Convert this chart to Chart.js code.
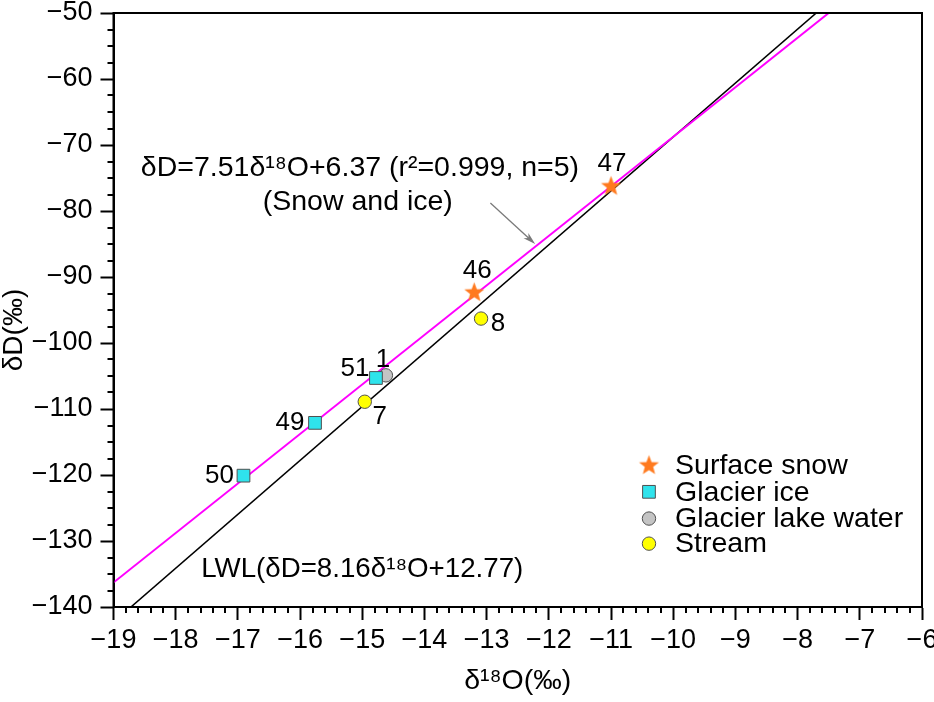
<!DOCTYPE html>
<html><head><meta charset="utf-8">
<script src="https://cdn.jsdelivr.net/npm/chart.js@4.4.1/dist/chart.umd.min.js"></script>
<style>html,body{margin:0;padding:0;background:#fff}</style>
</head><body>
<canvas id="c" width="934" height="702"></canvas>
<script>
// ---- data ----
const xTicks = [-19,-18,-17,-16,-15,-14,-13,-12,-11,-10,-9,-8,-7,-6];
const yTicks = [-140,-130,-120,-110,-100,-90,-80,-70,-60,-50];

const snowX = [-11.0, -13.2];
const snowY = [-76.2, -92.3];
const snowLabels = ['47', '46'];

const iceX = [-14.78, -15.76, -16.91];
const iceY = [-105.3, -112.1, -120.1];
const iceLabels = ['51', '49', '50'];

const lakeX = [-14.62];
const lakeY = [-104.9];
const lakeLabels = ['1'];

const streamX = [-13.09, -14.96];
const streamY = [-96.3, -108.9];
const streamLabels = ['8', '7'];

const snowIceLineX = [-19, -7.5];
const snowIceLineY = [-136.3, -50];
const lwlX = [-18.72, -7.70];
const lwlY = [-140, -50];

const seriesNames = ['Surface snow', 'Glacier ice', 'Glacier lake water', 'Stream'];
const xTitle = 'δ¹⁸O(‰)';
const yTitle = 'δD(‰)';
const eqSnowIce = 'δD=7.51δ¹⁸O+6.37 (r²=0.999, n=5)';
const eqSnowIceSub = '(Snow and ice)';
const eqLWL = 'LWL(δD=8.16δ¹⁸O+12.77)';

// ---- styling / placement (not data) ----
const FONT = '"Liberation Sans", Arial, Helvetica, sans-serif';
Chart.defaults.font.family = FONT;
const labelOffsets = {
  '47': [1, -22], '46': [3, -21], '8': [17, 5],
  '51': [-21, -9], '49': [-25, 0], '50': [-24, 0],
  '1': [-3, -16], '7': [15, 15]
};
const annotPos = {
  eq1: [-18.56, -73.5], eq2: [-16.6, -78.6], lwl: [-17.59, -134.3],
  arrowFrom: [-12.94, -78.8], arrowTo: [-12.22, -85.0],
  legendMarkerX: -10.39, legendTextX: -9.97, legendRows: [-118.5, -122.55, -126.6, -130.4]
};

function pts(xs, ys) { return xs.map((x, i) => ({x: x, y: ys[i]})); }
function fmt(v) { return String(v).replace('-', '\u2212'); }

// star image for point style
function makeStar(R, r, color) {
  const c = document.createElement('canvas');
  c.width = c.height = Math.ceil(2 * R + 2);
  const g = c.getContext('2d');
  const cx = c.width / 2, cy = c.height / 2 + 0.5;
  g.beginPath();
  for (let i = 0; i < 10; i++) {
    const rad = i % 2 === 0 ? R : r;
    const a = -Math.PI / 2 + i * Math.PI / 5;
    const px = cx + rad * Math.cos(a), py = cy + rad * Math.sin(a);
    if (i === 0) g.moveTo(px, py); else g.lineTo(px, py);
  }
  g.closePath();
  g.fillStyle = color;
  g.fill();
  return c;
}
const starImg = makeStar(10.5, 4.4, '#FF7A1F');

const styles = [
  {pointStyle: starImg, radius: 10, bg: '#FF7A1F', border: '#FF7A1F'},
  {pointStyle: 'rect', radius: 9, bg: '#2FE3EC', border: '#505050'},
  {pointStyle: 'circle', radius: 6.7, bg: '#C4C4C4', border: '#505050'},
  {pointStyle: 'circle', radius: 6.7, bg: '#FFFF00', border: '#505050'}
];

const pointSets = [
  {name: seriesNames[0], data: pts(snowX, snowY), labels: snowLabels},
  {name: seriesNames[1], data: pts(iceX, iceY), labels: iceLabels},
  {name: seriesNames[2], data: pts(lakeX, lakeY), labels: lakeLabels},
  {name: seriesNames[3], data: pts(streamX, streamY), labels: streamLabels}
];

const datasets = pointSets.map((s, i) => ({
  label: s.name, data: s.data, pointLabels: s.labels,
  pointStyle: styles[i].pointStyle, pointRadius: styles[i].radius,
  backgroundColor: styles[i].bg, borderColor: styles[i].border,
  borderWidth: 1, showLine: false, order: 0
}));
datasets.push({
  label: 'Snow and ice', data: pts(snowIceLineX, snowIceLineY), showLine: true,
  borderColor: '#FF00FF', borderWidth: 2, pointRadius: 0, order: 2
});
datasets.push({
  label: 'LWL', data: pts(lwlX, lwlY), showLine: true,
  borderColor: '#000000', borderWidth: 1.6, pointRadius: 0, order: 2
});

const decor = {
  id: 'decor',
  afterDraw(chart) {
    const ctx = chart.ctx, xs = chart.scales.x, ys = chart.scales.y, a = chart.chartArea;
    ctx.save();
    // frame
    ctx.strokeStyle = '#000'; ctx.lineWidth = 2;
    ctx.strokeRect(a.left, a.top, a.right - a.left, a.bottom - a.top);
    // minor ticks
    ctx.beginPath();
    for (let i = 0; i <= 65; i++) {
      if (i % 5 === 0) continue;
      const px = Math.round(xs.getPixelForValue(-19 + i * 0.2));
      ctx.moveTo(px, a.bottom); ctx.lineTo(px, a.bottom + 6);
    }
    for (let i = 0; i <= 36; i++) {
      if (i % 4 === 0) continue;
      const py = Math.round(ys.getPixelForValue(-140 + i * 2.5));
      ctx.moveTo(a.left, py); ctx.lineTo(a.left - 6, py);
    }
    ctx.stroke();

    // y axis title (rotated)
    ctx.fillStyle = '#000';
    ctx.save();
    ctx.translate(a.left - 99, (a.top + a.bottom) / 2 + 20);
    ctx.rotate(-Math.PI / 2);
    ctx.font = '28px ' + FONT;
    ctx.textAlign = 'center'; ctx.textBaseline = 'middle';
    ctx.fillText(yTitle, 0, 0);
    ctx.restore();

    // point labels
    ctx.font = '26px ' + FONT;
    ctx.textAlign = 'center'; ctx.textBaseline = 'middle';
    chart.data.datasets.forEach((ds, di) => {
      if (!ds.pointLabels) return;
      const meta = chart.getDatasetMeta(di);
      meta.data.forEach((el, j) => {
        const t = ds.pointLabels[j];
        const off = labelOffsets[t] || [0, -18];
        ctx.fillText(t, el.x + off[0], el.y + off[1]);
      });
    });

    // annotations
    ctx.font = '28.5px ' + FONT;
    ctx.textAlign = 'left';
    ctx.fillText(eqSnowIce, xs.getPixelForValue(annotPos.eq1[0]), ys.getPixelForValue(annotPos.eq1[1]));
    ctx.fillText(eqSnowIceSub, xs.getPixelForValue(annotPos.eq2[0]), ys.getPixelForValue(annotPos.eq2[1]));
    ctx.font = '27.7px ' + FONT;
    ctx.fillText(eqLWL, xs.getPixelForValue(annotPos.lwl[0]), ys.getPixelForValue(annotPos.lwl[1]));

    // arrow
    const x0 = xs.getPixelForValue(annotPos.arrowFrom[0]), y0 = ys.getPixelForValue(annotPos.arrowFrom[1]);
    const x1 = xs.getPixelForValue(annotPos.arrowTo[0]), y1 = ys.getPixelForValue(annotPos.arrowTo[1]);
    const ang = Math.atan2(y1 - y0, x1 - x0);
    ctx.strokeStyle = '#7A7A7A'; ctx.fillStyle = '#7A7A7A'; ctx.lineWidth = 1.3;
    ctx.beginPath(); ctx.moveTo(x0, y0); ctx.lineTo(x1 - 6 * Math.cos(ang), y1 - 6 * Math.sin(ang)); ctx.stroke();
    ctx.beginPath();
    ctx.moveTo(x1, y1);
    ctx.lineTo(x1 - 13 * Math.cos(ang - 0.28), y1 - 13 * Math.sin(ang - 0.28));
    ctx.lineTo(x1 - 9 * Math.cos(ang), y1 - 9 * Math.sin(ang));
    ctx.lineTo(x1 - 13 * Math.cos(ang + 0.28), y1 - 13 * Math.sin(ang + 0.28));
    ctx.closePath(); ctx.fill();

    // legend
    const mx = xs.getPixelForValue(annotPos.legendMarkerX);
    const tx = xs.getPixelForValue(annotPos.legendTextX);
    ctx.font = '28.5px ' + FONT;
    seriesNames.forEach((name, i) => {
      const y = ys.getPixelForValue(annotPos.legendRows[i]);
      const st = styles[i];
      if (i === 0) {
        ctx.drawImage(starImg, mx - starImg.width / 2, y - starImg.height / 2);
      } else {
        ctx.fillStyle = st.bg; ctx.strokeStyle = st.border; ctx.lineWidth = 1;
        ctx.beginPath();
        if (st.pointStyle === 'rect') {
          const h = st.radius * Math.SQRT1_2;
          ctx.rect(mx - h, y - h, 2 * h, 2 * h);
        } else {
          ctx.arc(mx, y, st.radius, 0, Math.PI * 2);
        }
        ctx.fill(); ctx.stroke();
      }
      ctx.fillStyle = '#000';
      ctx.textAlign = 'left'; ctx.textBaseline = 'middle';
      ctx.fillText(name, tx, y + 1);
    });
    ctx.restore();
  }
};

new Chart(document.getElementById('c'), {
  type: 'scatter',
  data: {datasets: datasets},
  options: {
    responsive: false, animation: false,
    layout: {padding: {top: 13, right: 12, left: 0, bottom: 0}},
    plugins: {legend: {display: false}, tooltip: {enabled: false}},
    scales: {
      x: {
        type: 'linear', min: -19, max: -6,
        afterBuildTicks: s => { s.ticks = xTicks.map(v => ({value: v})); },
        afterFit: s => { s.height = 95; s.paddingLeft = 0; s.paddingRight = 0; },
        grid: {drawOnChartArea: false, drawTicks: true, tickLength: 13, tickWidth: 2, tickColor: '#000'},
        border: {display: true, color: '#000', width: 2},
        ticks: {color: '#000', font: {size: 27}, padding: 4, maxRotation: 0, autoSkip: false, callback: v => fmt(v)},
        title: {display: true, text: xTitle, color: '#000', font: {size: 28.5}, padding: {top: 0, bottom: 4}}
      },
      y: {
        type: 'linear', min: -140, max: -50,
        afterBuildTicks: s => { s.ticks = yTicks.map(v => ({value: v})); },
        afterFit: s => { s.width = 113.5; s.paddingTop = 0; s.paddingBottom = 0; },
        grid: {drawOnChartArea: false, drawTicks: true, tickLength: 13, tickWidth: 2, tickColor: '#000'},
        border: {display: true, color: '#000', width: 2},
        ticks: {color: '#000', font: {size: 27}, padding: 8, autoSkip: false, callback: v => fmt(v)},
        title: {display: false}
      }
    }
  },
  plugins: [decor]
});
</script>
</body></html>
